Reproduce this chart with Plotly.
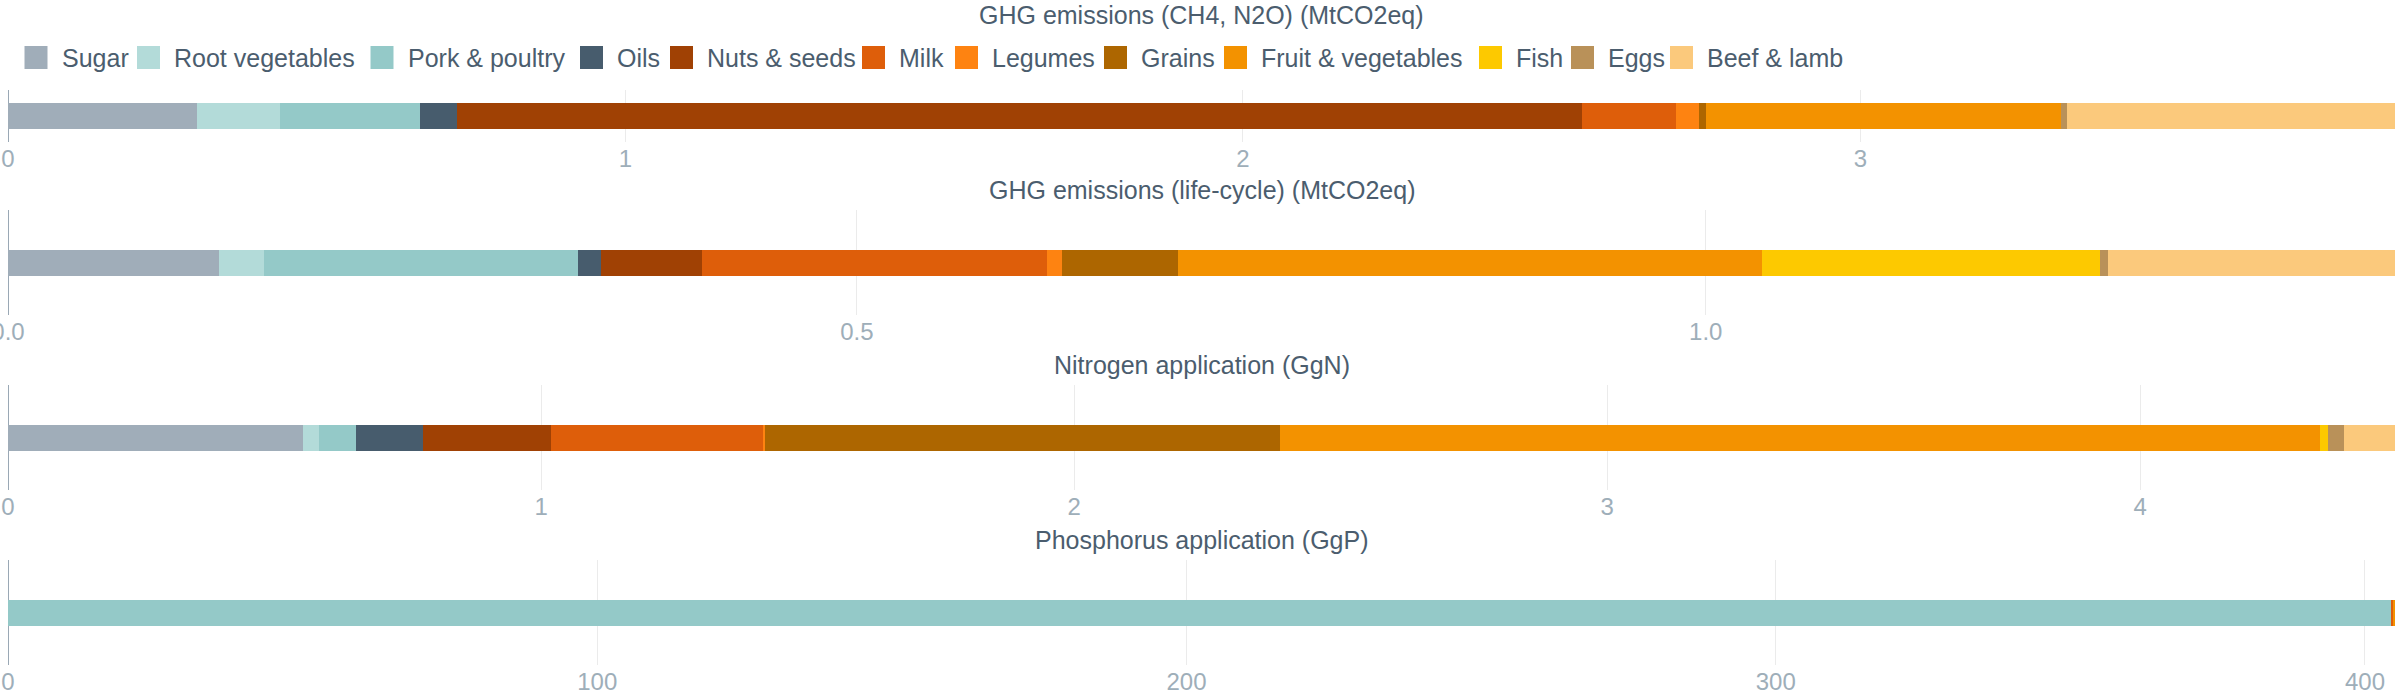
import plotly.graph_objects as go

categories = ["Sugar", "Root vegetables", "Pork & poultry", "Oils", "Nuts & seeds", "Milk",
              "Legumes", "Grains", "Fruit & vegetables", "Fish", "Eggs", "Beef & lamb"]
colors = ["#a0adb9", "#b3dbd9", "#94c9c8", "#475c6d", "#a04104", "#de5e0a",
          "#fe8311", "#ad6600", "#f39200", "#fdc900", "#b99159", "#fbc97c"]

metric_titles = ["GHG emissions (CH4, N2O) (MtCO2eq)", "GHG emissions (life-cycle) (MtCO2eq)",
                 "Nitrogen application (GgN)", "Phosphorus application (GgP)"]

ghg_ch4_n2o = [0.306, 0.135, 0.226, 0.061, 1.822, 0.152, 0.036, 0.012, 0.575, 0.0, 0.010, 0.531]
ghg_lifecycle = [0.124, 0.027, 0.185, 0.013, 0.060, 0.203, 0.009, 0.068, 0.344, 0.199, 0.005, 0.169]
nitrogen = [0.553, 0.031, 0.069, 0.125, 0.241, 0.398, 0.004, 0.966, 1.950, 0.016, 0.030, 0.095]
phosphorus = [0.0, 0.0, 404.4, 0.0, 0.0, 0.35, 0.0, 0.0, 0.35, 0.0, 0.0, 0.0]

metric_values = [ghg_ch4_n2o, ghg_lifecycle, nitrogen, phosphorus]
tick_steps = [1, 0.5, 1, 100]
tick_formats = ["", ".1f", "", ""]

W, H = 2400, 700
ML, MR = 8, 5
PW = W - ML - MR
# plot area vertical extents in pixels (top, bottom)
plot_px = [(90, 142), (210, 315), (385, 490), (560, 665)]
title_px = [15, 190, 365, 540]
bar_px = 26

# custom legend layout (pixels): left edge of each swatch
legend_swatch_left = [24.5, 137, 370.5, 580, 670, 862, 955, 1104, 1224, 1479, 1571, 1670]
legend_y_px = 57.5
swatch_px = 23
legend_text_offset = 35

TEXT = "#4b5d6e"
TICK = "#9eaeb9"
FONT = "Liberation Sans, Arial, sans-serif"


def px_to_paper_x(px):
    return (px - ML) / PW


def px_to_paper_y(py):
    return 1 - py / H


fig = go.Figure()
layout = {}
for i, vals in enumerate(metric_values):
    n = i + 1
    xa = "x" if n == 1 else f"x{n}"
    ya = "y" if n == 1 else f"y{n}"
    top, bot = plot_px[i]
    width_units = bar_px / (bot - top)
    for cat, col, v in zip(categories, colors, vals):
        fig.add_trace(go.Bar(
            x=[v], y=[0], orientation="h", name=cat, legendgroup=cat,
            showlegend=False, marker=dict(color=col, line=dict(width=0)),
            width=width_units, xaxis=xa, yaxis=ya,
            hovertemplate=f"{cat}: %{{x}}<extra></extra>"))
    total = sum(vals)
    layout[f"xaxis{'' if n == 1 else n}"] = dict(
        domain=[0, 1], anchor=ya, range=[0, total], dtick=tick_steps[i], tick0=0,
        tickformat=tick_formats[i], showgrid=True, gridcolor="#ebebeb", gridwidth=1,
        zeroline=True, zerolinecolor="#9aa8b5", zerolinewidth=1, showline=False,
        ticks="", automargin=False, ticklabeloverflow="allow",
        tickfont=dict(size=24, color=TICK, family=FONT))
    layout[f"yaxis{'' if n == 1 else n}"] = dict(
        domain=[1 - bot / H, 1 - top / H], anchor=xa, range=[-0.5, 0.5],
        showticklabels=False, showgrid=False, zeroline=False, fixedrange=True,
        automargin=False)

annotations = []
for t, ypx in zip(metric_titles, title_px):
    annotations.append(dict(text=t, x=0.5, y=px_to_paper_y(ypx), xref="paper", yref="paper",
                            xanchor="center", yanchor="middle", showarrow=False,
                            font=dict(size=25, color=TEXT, family=FONT)))

shapes = []
for cat, col, left in zip(categories, colors, legend_swatch_left):
    shapes.append(dict(type="rect", xref="paper", yref="paper",
                       x0=px_to_paper_x(left), x1=px_to_paper_x(left + swatch_px),
                       y0=px_to_paper_y(legend_y_px + swatch_px / 2),
                       y1=px_to_paper_y(legend_y_px - swatch_px / 2),
                       fillcolor=col, line=dict(width=0), layer="above"))
    annotations.append(dict(text=cat, x=px_to_paper_x(left + legend_text_offset),
                            y=px_to_paper_y(legend_y_px), xref="paper", yref="paper",
                            xanchor="left", yanchor="middle", showarrow=False,
                            font=dict(size=25, color=TEXT, family=FONT)))

fig.update_layout(
    template="none",
    width=W, height=H, barmode="stack", showlegend=False,
    margin=dict(l=ML, r=MR, t=0, b=0, autoexpand=False),
    paper_bgcolor="white", plot_bgcolor="white",
    font=dict(family=FONT, size=24, color=TEXT),
    annotations=annotations, shapes=shapes,
    **layout)

fig.write_html("out.html", config={"displayModeBar": False},
               post_script="document.body.style.margin='0';document.body.style.overflow='hidden';")
